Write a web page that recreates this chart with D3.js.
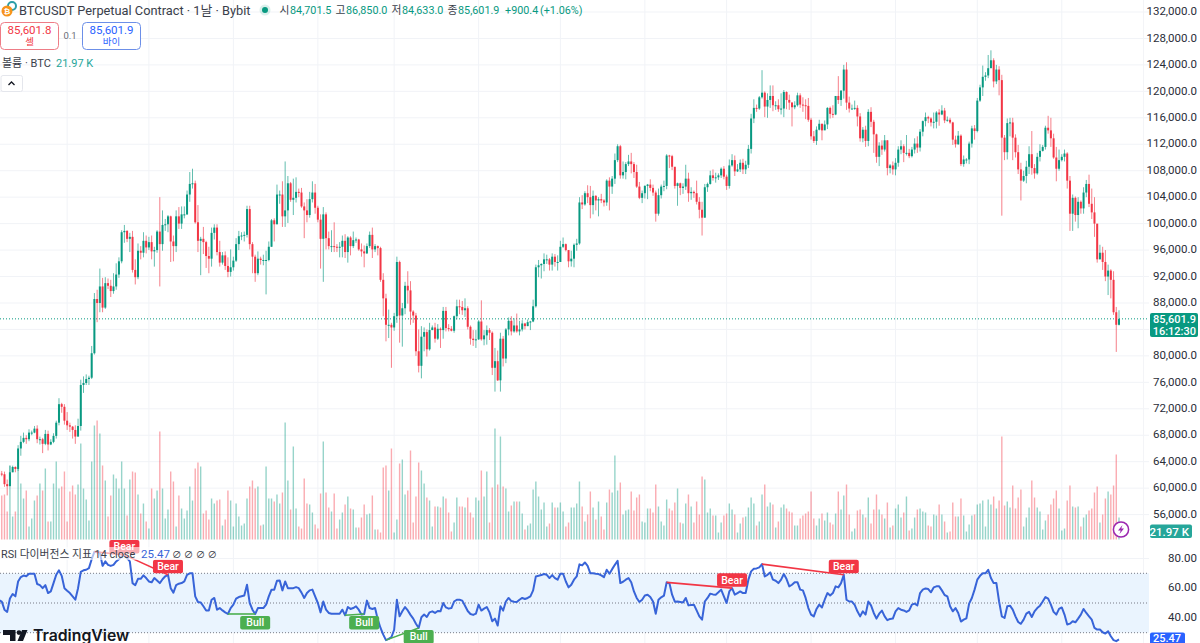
<!DOCTYPE html>
<html>
<head>
<meta charset="utf-8">
<script src="https://cdn.jsdelivr.net/npm/d3@7"></script>
<style>
  html, body { margin: 0; padding: 0; background: #fff; overflow: hidden; }
  svg { display: block; font-family: Roboto, "Noto Sans CJK KR", sans-serif; }
</style>
</head>
<body>
<svg id="chart" width="1200" height="643"></svg>
<script>
// daily candles in thousands of USDT, one row per month
var firstOpen = 62.1;
var closes = [
  62.8,62.2,62.1,60.6,60.3,62.4,63.2,62.9,66.0,67.0,67.6,67.4,68.4,68.4,69.0,67.4,67.4,66.7,68.2,66.6,67.0,67.9,69.9,72.7,72.3,70.2,
  69.5,69.3,68.8,67.8,69.4,75.6,75.9,76.5,76.7,80.4,88.6,88.0,90.5,87.3,91.0,90.6,89.8,90.5,92.3,94.3,98.7,98.9,97.7,98.0,93.0,91.9,95.9,95.6,97.4,96.4,
  97.2,95.8,96.0,98.8,96.9,99.8,99.9,101.1,97.3,96.6,101.1,100.0,101.4,101.4,104.4,106.0,106.1,100.2,97.4,97.7,97.2,95.1,94.7,98.6,99.4,95.7,94.1,95.2,93.6,92.7,93.4,
  94.4,96.9,98.1,98.2,98.3,102.2,96.9,95.0,92.5,94.7,94.5,94.5,94.5,96.5,100.5,99.9,104.4,104.4,101.1,102.0,106.1,103.6,103.9,104.8,104.7,102.6,102.0,101.3,103.7,104.7,102.4,
  100.6,97.7,101.4,97.8,96.6,96.6,96.5,96.4,96.5,97.4,95.7,97.9,96.6,97.5,97.6,96.1,95.8,95.5,96.6,98.3,96.1,96.6,96.3,91.5,88.7,84.7,84.7,84.3,
  86.0,94.2,86.1,87.2,90.6,89.9,86.7,86.1,80.7,78.5,82.9,83.6,81.0,83.9,84.3,82.6,84.1,83.9,86.8,84.2,84.1,83.8,86.0,87.5,87.4,86.9,87.2,84.4,82.6,82.4,82.5,
  85.2,82.5,83.1,83.9,83.5,78.2,79.2,76.3,82.6,79.6,84.0,85.3,83.7,84.6,83.7,84.0,84.9,84.5,85.1,85.2,87.5,93.4,93.7,93.9,94.6,94.6,93.8,95.0,94.2,94.2,
  96.5,96.9,96.0,94.3,94.7,96.8,97.0,103.2,102.9,104.6,104.0,102.8,104.2,103.5,103.7,103.5,103.2,106.5,105.6,106.8,109.6,111.7,107.3,107.8,109.0,109.4,109.0,107.8,105.6,103.9,104.6,
  105.7,105.9,105.4,104.7,101.5,104.3,105.6,105.7,110.3,110.2,108.6,105.7,106.1,105.4,105.6,106.8,104.6,104.8,104.6,103.3,102.1,100.9,105.5,106.0,107.3,106.9,107.0,107.3,108.3,107.1,
  105.7,108.8,109.6,107.9,108.2,109.2,108.2,108.9,111.3,115.9,117.5,117.4,119.1,119.8,117.7,118.7,119.3,117.9,117.9,117.3,117.4,119.9,118.7,118.3,117.6,117.9,119.4,118.0,117.9,117.8,115.7,
  113.2,112.5,114.2,115.1,114.1,115.0,117.5,116.6,116.5,119.3,118.7,120.1,123.3,118.3,117.4,117.4,117.5,116.2,112.9,114.2,112.5,116.9,115.4,113.5,110.1,111.8,111.2,112.6,108.4,108.8,108.2,
  109.2,111.2,111.7,110.7,110.7,110.2,111.2,112.1,111.5,113.9,115.5,116.1,115.9,115.3,115.4,116.8,116.5,117.1,115.6,115.7,115.3,112.7,112.0,113.3,109.0,109.7,109.7,112.1,114.4,114.0,
  118.6,120.6,122.2,122.4,123.5,124.7,121.5,123.3,121.7,113.0,110.8,115.2,115.3,113.0,110.8,108.2,106.5,107.2,108.6,110.5,108.4,107.6,110.1,111.0,111.6,114.5,114.1,112.9,110.0,108.3,109.6,
  110.1,110.6,106.5,101.5,103.9,101.3,103.3,102.3,104.7,106.0,103.0,101.7,100.0,94.6,95.6,94.2,92.0,92.9,91.5,86.6,84.7,85.6
];
var highs = [
  64.4,63.2,62.6,62.5,61.3,63.4,63.4,63.3,66.5,67.9,68.4,68.0,68.9,68.7,69.4,69.5,67.8,67.6,68.8,68.7,67.4,68.3,70.2,73.6,72.9,72.7,
  71.5,69.9,69.4,69.5,70.5,76.4,76.9,77.2,77.0,81.5,89.5,90.0,93.2,91.8,91.9,91.7,91.5,92.5,94.0,94.9,99.0,99.8,99.0,98.6,98.9,94.6,97.0,96.6,98.7,98.2,
  98.0,98.2,96.5,99.0,104.0,102.0,100.7,101.3,101.2,98.2,102.0,102.5,102.6,102.6,105.0,107.8,108.3,106.5,102.8,98.0,99.5,97.4,96.5,99.4,99.9,99.9,97.4,95.7,95.8,94.9,96.1,
  95.0,97.8,98.9,98.7,98.8,102.7,102.7,97.2,95.3,95.8,95.0,95.3,95.9,97.3,100.7,100.8,105.9,105.0,106.4,109.4,107.2,106.3,106.8,107.0,105.3,105.4,103.2,103.7,104.8,106.4,106.0,
  102.7,101.4,102.5,101.7,98.8,99.0,100.2,96.9,97.2,98.2,98.4,98.1,98.1,98.8,97.9,97.7,97.0,96.7,97.0,98.8,99.4,96.9,96.7,96.5,92.5,89.4,87.0,85.0,
  86.5,95.0,94.4,88.0,91.2,92.8,91.3,86.9,86.5,84.0,84.5,84.3,84.0,85.0,84.6,85.0,84.8,84.3,87.4,87.4,84.8,84.5,86.1,88.5,88.5,88.3,88.7,87.5,84.6,83.9,83.9,
  85.4,88.4,83.9,84.6,84.2,83.7,81.2,80.8,83.5,83.0,84.2,85.8,86.0,85.7,86.4,85.3,85.4,85.0,85.5,85.3,88.5,93.8,94.5,94.0,95.5,95.3,94.8,95.5,95.4,95.2,
  97.4,97.9,97.0,96.0,95.9,97.0,97.7,104.0,104.3,104.9,105.8,105.7,105.0,104.3,104.0,104.5,103.7,106.7,107.0,107.2,110.6,112.0,111.9,109.4,109.3,110.4,110.7,109.3,108.9,106.3,105.0,
  105.8,106.0,106.7,105.9,105.0,105.3,105.9,106.5,110.5,110.4,110.4,108.4,106.2,106.2,106.1,108.9,107.7,105.5,105.0,106.5,104.0,103.3,106.0,106.2,108.0,108.2,107.7,107.6,108.5,108.7,
  107.4,109.7,110.5,110.3,109.0,109.7,109.8,109.5,111.9,116.6,118.8,118.0,119.3,123.2,120.0,119.7,120.9,120.9,118.5,118.8,119.7,120.2,120.0,119.5,118.4,118.5,119.8,119.7,119.1,118.8,119.0,
  116.0,114.0,114.7,115.7,115.1,115.6,117.6,117.7,117.9,119.3,122.3,120.2,124.0,124.4,119.2,118.0,118.6,117.9,116.7,114.6,114.8,117.3,117.6,115.7,113.6,112.3,112.6,113.4,112.6,109.0,109.4,
  109.9,111.7,112.6,112.0,113.4,111.3,111.6,112.9,113.2,114.3,115.6,116.8,116.3,116.1,116.8,117.0,117.3,117.9,117.5,116.2,116.0,115.4,113.3,114.0,113.5,110.3,109.9,112.4,114.8,114.9,
  119.0,121.0,123.9,122.9,125.5,126.2,125.0,124.0,123.8,122.5,113.4,115.9,116.0,116.0,113.5,111.9,109.2,108.0,109.5,111.7,114.0,109.0,110.7,112.0,111.9,114.8,116.3,116.0,113.6,111.6,111.2,
  110.5,111.2,110.8,107.2,104.4,104.1,104.0,103.5,105.5,106.6,107.4,105.3,104.0,99.9,96.8,96.5,96.0,93.8,93.1,92.8,87.4,86.9
];
var lows = [
  62.1,61.9,61.8,60.2,58.9,60.4,62.4,62.4,62.6,64.9,66.8,66.7,67.1,68.0,68.3,66.8,66.6,65.3,66.5,65.7,66.5,66.8,67.5,69.5,71.4,69.6,
  68.8,68.5,67.5,66.7,67.8,68.7,74.4,75.6,75.6,76.5,80.2,85.1,86.6,86.6,87.1,90.1,88.9,89.4,90.0,91.8,94.0,97.1,97.2,95.7,92.6,90.8,91.6,94.6,94.9,95.5,
  96.0,94.6,93.5,95.6,90.5,95.9,98.9,98.7,94.2,94.3,95.7,99.2,99.2,100.8,101.3,103.3,105.3,100.0,95.7,92.2,95.4,93.3,92.5,93.5,97.6,95.2,93.5,93.8,93.0,91.9,92.0,
  92.9,94.2,96.0,97.5,97.3,97.9,96.1,92.5,91.2,92.2,93.8,93.7,89.3,94.3,96.5,97.3,99.9,103.0,99.5,99.5,100.1,103.3,101.3,103.2,104.0,102.4,97.8,100.2,100.9,103.2,101.5,
  100.2,93.2,91.2,96.1,96.1,95.7,95.7,95.7,94.9,94.9,94.8,94.1,95.2,96.3,97.1,95.9,95.0,93.4,95.4,96.3,94.8,95.7,95.2,91.2,86.0,82.2,82.7,78.2,
  83.8,85.0,82.0,81.4,86.3,87.9,84.7,85.0,80.0,77.5,76.6,80.7,79.9,80.8,83.9,82.0,82.4,81.2,82.6,83.7,83.7,83.7,83.5,85.5,86.3,86.2,85.9,84.0,81.7,81.5,81.2,
  82.4,82.3,81.6,81.7,82.4,77.1,74.6,76.2,74.6,78.4,78.9,83.1,83.1,83.5,83.5,83.1,83.7,84.0,84.5,83.9,85.1,87.3,91.9,91.7,92.8,93.9,92.9,92.9,93.5,92.9,
  94.2,96.3,95.8,93.4,93.5,93.4,95.9,96.8,102.2,102.7,103.1,100.8,101.4,102.0,101.1,103.1,102.6,102.7,102.0,104.5,106.0,109.3,106.8,106.8,106.7,108.7,107.6,106.9,105.4,103.7,103.1,
  103.8,103.7,104.9,104.2,100.3,101.2,103.8,104.9,105.2,108.4,108.1,105.3,102.7,104.3,104.5,105.1,103.3,103.6,103.9,102.9,100.8,98.2,100.9,104.8,105.9,106.5,106.2,106.6,106.9,106.7,
  105.1,105.3,108.6,107.2,107.8,107.8,107.5,107.5,108.4,110.6,115.2,116.9,117.2,118.9,116.1,116.0,117.5,117.0,117.2,116.9,116.5,116.1,117.3,117.2,114.7,117.3,117.7,117.5,116.9,115.8,115.4,
  112.7,112.2,111.9,114.1,112.6,114.2,114.3,115.9,116.0,116.4,118.1,117.8,118.9,117.2,116.8,117.3,117.2,114.7,112.4,112.3,111.6,111.7,114.6,110.7,109.2,108.7,110.4,110.9,107.3,107.6,107.4,
  107.3,108.6,110.5,109.3,110.3,109.9,110.0,110.6,110.7,110.9,113.2,114.7,115.2,114.7,114.4,114.4,114.8,116.4,115.2,115.4,115.1,111.9,111.5,111.9,108.7,108.6,109.1,109.0,111.5,112.7,
  113.8,118.4,119.3,121.6,122.0,123.6,120.6,121.1,119.4,101.2,109.6,109.7,113.2,109.6,110.0,107.5,103.5,106.3,106.1,107.5,107.4,106.8,107.4,109.4,110.9,111.2,113.6,111.6,109.8,106.4,108.0,
  109.4,109.4,105.3,98.9,98.9,100.3,99.3,101.5,101.5,104.0,102.5,100.7,98.0,94.1,94.6,93.0,91.3,89.2,88.7,86.2,80.6,84.6
];
// volume in K
var volumes = [
  44,44,44,45,28,74,23,28,71,56, 41,49,13,21,39,44,56,49,71,18, 18,56,78,51,53,68,18,48,54,45,
  55,96,51,40,19,78,114,119,106,74, 59,23,44,65,61,51,78,51,24,60, 68,67,45,26,36,18,11,51,41,49,
  108,51,21,30,68,58,13,44,31,21, 29,53,39,71,77,73,26,29,20,41, 36,39,40,14,20,49,39,13,36,23,
  14,16,41,53,59,51,53,14,15,73, 41,41,38,45,36,47,117,59,30,93, 31,13,11,61,36,35,27,15,11,46,
  98,47,32,28,46,11,20,27,35,43, 31,30,12,12,22,35,25,26,44,10, 10,7,72,74,49,91,7,20,76,
  80,45,49,89,17,43,77,69,56,42, 39,13,33,33,32,43,41,27,8,17, 42,33,33,32,42,27,22,42,39,69,
  43,68,17,52,111,55,103,53,51,28, 34,38,38,38,26,10,14,16,50,58, 43,30,37,13,16,37,32,32,37,28,
  13,17,32,32,36,58,33,18,25,48, 32,20,38,23,10,37,50,47,84,49, 57,25,29,30,48,29,42,45,18,17,
  31,31,27,55,33,18,14,40,31,29, 37,51,17,16,36,45,33,17,38,25, 63,60,27,31,24,24,7,17,24,26,
  36,30,25,7,16,22,23,32,42,36, 14,18,45,55,33,37,35,12,18,32, 35,31,28,27,14,14,21,
  24,26,28,48,21,14,21,26,19,27, 17,15,26,48,30,44,55,25,8,11, 29,30,25,22,42,16,30,45,30,25,
  21,37,12,14,31,35,22,27,43,9, 11,22,30,31,28,27,14,13,25,24, 35,25,18,7,8,37,23,23,41,24,
  8,15,24,25,35,36,39,13,40,35, 43,31,39,103,34,38,32,54,31,42, 50,13,22,32,59,42,32,28,10,19,
  25,35,41,49,31,9,11,39,54,33, 32,33,13,22,25,29,31,47,53,17, 25,41,48,45,54,85,22
];
var rsiValues = [
  52,52,51,45.5,44,53,56,54.5,64.5,67.5, 68.5,68,69.7,69.7,69.7,62.8,62,60,62,56.7,
  57.8,63.4,69,72,68.3,60,58.3,56.7,54.5,52.2, 60,71,72,72.4,73.5,79.5,84.5,84.2,84,75,
  78,75.7,75,75.7,78,79.5,81.3,82.4,80.2,78, 63.4,62,66.3,66.3,68.6,66.8,64.5,63.9,66.8,65.2,
  63.4,66,68,69,60,57,62,63,63.4,64.5, 69,70,70,54.5,50.7,50.4,47.8,45,45,52.2,
  53.4,45.5,46.6,45,43.7,42.6,46.6,48.9,52.9,54, 54.5,55,62.3,50,45.5,42.6,46.6,46.6,46.6,48.9,
  54.5,59,59,65,65.2,58.5,64.5,60,60,60, 60.7,60,57,53.4,56.7,58.5,59,54.5,50,43.7,
  51,45.5,43.3,42.8,42.8,42.8,42.8,45.5,41.7,47.3, 46,46.6,47.8,45.5,42.2,42.6,51.6,46.6,46,46.6,
  38.8,33.2,28.7,25,25.8,27,32,52.2,41, 44.4,47.3,45,42,39.5,36,33.2,40.4,42.2,40.6,
  43.7,44.4,43.3,44.6,44.4,50,47,46.2,46.6,51, 52.2,52.2,51.6,48.2,44.6,42.6,42,42.8,48.9,44.9,
  46.2,47.3,43.7,37.7,39.5,34.8,47.8,44.9,51,53.4, 51.3,50.9,50.7,52.2,53.4,52.7,53.4,54.5,58.5,67.9,
  68.3,68.8,69.5,69,66.8,68.8,66.8,65.7,69.7,69.7, 64.5,60.5,62.3,65.7,67.9,76,75.3,77.3,75,70,
  70,69.7,69.5,68.6,67.4,72.4,69.7,72.8,75.7,78.4, 63.4,64.3,65.7,66.8,64,57.8,53.4,50.7,52.2,55.1,
  55.6,54,51,42.8,52.2,53.8,54.9,63.9,63.4,55.6, 50.9,51,50.7,50.4,53.4,48.4,48.7,48.9,45,41,
  38.8,51,53.4,56.3,55.8,55.6,57.2,59,54.5,50, 57.8,60,55.6,56.7,57.8,56.7,56.7,65.7,71.3,73,
  73.3,74,76.2,67.9,69,70.6,65.7,65,63.4,65.7, 69.5,66.1,61.2,62.3,63.9,64,59,58.5,53.4,46.6,
  42.2,41,46,48.9,47,52.2,56.7,55,56.7,61.2, 60.5,63.4,69,52.2,51,51,48.7,44.4,41,44.4,
  42.2,51,48.4,43.3,39.5,42.8,44.9,41,38.4,39.3, 39.5,44.4,46.6,45.5,45,44,45,48.9,49.6,48.4,
  56.7,59,59.8,59.4,57.2,60.5,61.2,61.2,58.5,55.4, 54.5,47.8,44.4,46.6,43.3,37.5,38.8,39.7,49.6,53.4,
  59,65.7,68.3,70,70,72.4,66.8,63.4,63.4,51, 41,39.9,47.8,48.2,45.5,41,37.2,36,38.8,42.8,
  44,40.6,44.4,46.6,48.2,51,54,52.9,48.9,44, 42.2,46,47,42.2,35.5,36.1,37.7,37,39.5,42.2,
  46,43.3,41,38.8,33.2,32.1,32.1,30.3,29.4,31, 27.6,25,24.3,25.47
];

var priceTicks = [132,128,124,120,116,112,108,104,100,96,92,88,84,80,76,72,68,64,60,56];
var hiddenPriceLabels = [84]; // covered by the last-price badge
var rsiTicks = [80,60,40];
var rsiBands = [70,50,30];
// bar indexes of the month starts (Nov 2024 .. Nov 2025)
var monthStarts = [26,56,87,118,146,177,207,238,268,299,330,360,391];
var bearLines = [[36,47],[47,63],[246,270],[281,311]];
var bullLines = [[85,95],[128,135],[143,155]];
var ohlc = [["시","84,701.5"],["고","86,850.0"],["저","84,633.0"],["종","85,601.9"]];

var upColor = "#089981", downColor = "#f23645";
var lastIndex = closes.length - 1;

var svg = d3.select("#chart");

var x = d3.scaleLinear().domain([0, lastIndex]).range([-3.7, 1119]);
var y = d3.scaleLinear().domain([56, 132]).range([514.6, 12]);
var volY = d3.scaleLinear().domain([0, 125]).range([539.5, 414.5]);
var rsiY = d3.scaleLinear().domain([30, 70]).range([632.7, 573.3]);

function openOf(i) { return i == 0 ? firstOpen : closes[i - 1]; }
function isUp(i) { return closes[i] >= openOf(i); }

var plotRight = 1149;

///////////// grid
svg.append("g").selectAll("line").data(priceTicks).join("line")
  .attr("x1", 0).attr("x2", plotRight)
  .attr("y1", d => y(d)).attr("y2", d => y(d))
  .attr("stroke", "#f1f3f7");
svg.append("g").selectAll("line").data(monthStarts).join("line")
  .attr("x1", d => x(d)).attr("x2", d => x(d))
  .attr("y1", 0).attr("y2", 643)
  .attr("stroke", "#f1f3f7");
svg.append("line").attr("x1", 1143.5).attr("x2", 1143.5).attr("y1", 0).attr("y2", 643).attr("stroke", "#f3f4f7");

///////////// volume
svg.append("g").selectAll("rect").data(d3.range(volumes.length)).join("rect")
  .attr("x", i => x(i) - 0.7).attr("width", 1.4)
  .attr("y", i => volY(volumes[i]))
  .attr("height", i => volY(0) - volY(volumes[i]))
  .attr("fill", i => isUp(i) ? upColor : downColor)
  .attr("opacity", 0.42);

///////////// last price line
svg.append("line")
  .attr("x1", 0).attr("x2", plotRight)
  .attr("y1", y(85.6)).attr("y2", y(85.6))
  .attr("stroke", upColor).attr("stroke-dasharray", "1 2");

///////////// candles
var candles = svg.append("g");
candles.selectAll("line").data(d3.range(closes.length)).join("line")
  .attr("x1", i => x(i)).attr("x2", i => x(i))
  .attr("y1", i => y(highs[i])).attr("y2", i => y(lows[i]))
  .attr("stroke", i => isUp(i) ? upColor : downColor)
  .attr("stroke-width", 0.9)
  .attr("opacity", 0.7);
candles.selectAll("rect").data(d3.range(closes.length)).join("rect")
  .attr("x", i => x(i) - 1).attr("width", 2)
  .attr("y", i => y(Math.max(openOf(i), closes[i])))
  .attr("height", i => Math.max(1, Math.abs(y(openOf(i)) - y(closes[i]))))
  .attr("fill", i => isUp(i) ? upColor : downColor);

///////////// rsi pane
svg.append("rect")
  .attr("x", 0).attr("width", plotRight)
  .attr("y", rsiY(70)).attr("height", rsiY(30) - rsiY(70))
  .attr("fill", "#eaf4fe");
svg.append("g").selectAll("line").data(rsiBands).join("line")
  .attr("x1", 0).attr("x2", plotRight)
  .attr("y1", d => rsiY(d)).attr("y2", d => rsiY(d))
  .attr("stroke", "#787b86").attr("stroke-dasharray", "1 2");
svg.append("line")
  .attr("x1", 0).attr("x2", plotRight)
  .attr("y1", rsiY(80)).attr("y2", rsiY(80))
  .attr("stroke", "#f1f3f7");

var rsiLine = d3.line().x((d, i) => x(i)).y(d => rsiY(d));
svg.append("path")
  .datum(rsiValues)
  .attr("d", rsiLine)
  .attr("fill", "none").attr("stroke", "#3864d8")
  .attr("stroke-width", 2).attr("stroke-linejoin", "round");

function drawDivergence(lines, color) {
  svg.append("g").selectAll("line").data(lines).join("line")
    .attr("x1", d => x(d[0])).attr("x2", d => x(d[1]))
    .attr("y1", d => rsiY(rsiValues[d[0]])).attr("y2", d => rsiY(rsiValues[d[1]]))
    .attr("stroke", color).attr("stroke-width", 1.6);
}
drawDivergence(bearLines, downColor);
drawDivergence(bullLines, "#4caf50");

function drawTag(d, text, color, isBear) {
  var cx = x(d[1]);
  var top = isBear ? rsiY(rsiValues[d[1]]) - 15 : rsiY(rsiValues[d[1]]) + 2;
  svg.append("rect").attr("x", cx - 15).attr("y", top).attr("width", 30).attr("height", 13.5).attr("rx", 2).attr("fill", color);
  svg.append("text").attr("x", cx).attr("y", top + 10.5).attr("text-anchor", "middle")
    .attr("font-size", 10.5).attr("font-weight", 500).attr("fill", "#fff").text(text);
}
bearLines.forEach(d => drawTag(d, "Bear", downColor, true));
bullLines.forEach(d => drawTag(d, "Bull", "#4caf50", false));

///////////// axes on the right
var priceAxis = d3.axisRight(y)
  .tickValues(priceTicks.filter(d => hiddenPriceLabels.indexOf(d) < 0))
  .tickSize(0).tickPadding(0)
  .tickFormat(d => d3.format(",.1f")(d * 1000));
var priceAxisG = svg.append("g").attr("transform", "translate(1197,-1)").call(priceAxis);
var rsiAxis = d3.axisRight(rsiY)
  .tickValues(rsiTicks).tickSize(0).tickPadding(0)
  .tickFormat(d3.format(".2f"));
var rsiAxisG = svg.append("g").attr("transform", "translate(1197,-1)").call(rsiAxis);
[priceAxisG, rsiAxisG].forEach(g => {
  g.select(".domain").remove();
  g.selectAll("text")
    .attr("text-anchor", "end")
    .attr("font-family", "Roboto, sans-serif")
    .attr("font-size", 11.5)
    .attr("fill", "#2a2e39");
});

function badge(x0, y0, w, h, fill) {
  svg.append("rect").attr("x", x0).attr("y", y0).attr("width", w).attr("height", h).attr("rx", 2).attr("fill", fill);
}
function label(str, px, py, size, fill, anchor, weight) {
  return svg.append("text").attr("x", px).attr("y", py)
    .attr("font-size", size).attr("fill", fill)
    .attr("text-anchor", anchor || "start")
    .attr("font-weight", weight || 400)
    .text(str);
}
badge(1150, 313, 48, 24, upColor);
label("85,601.9", 1196, 322.5, 11, "#fff", "end", 500);
label("16:12:30", 1196, 334.5, 11, "#fff", "end", 500);
badge(1150, 524.5, 42, 13.5, "#26a69a");
label("21.97 K", 1189, 535.5, 11.5, "#fff", "end", 500);
badge(1150, 632.5, 35, 14, "#2962ff");
label("25.47", 1181, 641.5, 11, "#fff", "end", 500);

// lightning button over the volume bars
svg.append("circle").attr("cx", 1121).attr("cy", 529.5).attr("r", 7.6)
  .attr("fill", "#fff").attr("stroke", "#9c27b0").attr("stroke-width", 1.5);
svg.append("path").attr("transform", "translate(1121,529.5)")
  .attr("d", "M1.5,-4.5 L-3,1 L-0.3,1 L-1.5,4.5 L3,-1 L0.3,-1 Z")
  .attr("fill", "#9c27b0");

///////////// header and legends
svg.append("circle").attr("cx", 12).attr("cy", 6).attr("r", 4).attr("fill", "none").attr("stroke", "#2c9ea8").attr("stroke-width", 2);
svg.append("circle").attr("cx", 7).attr("cy", 11).attr("r", 5.5).attr("fill", "#f7931a");
label("₿", 7, 14, 8, "#fff", "middle", 700);
label("BTCUSDT Perpetual Contract · 1날 · Bybit", 19, 14.5, 12.8, "#3a3e4a");

svg.append("circle").attr("cx", 265).attr("cy", 10).attr("r", 5.5).attr("fill", "#089981").attr("opacity", 0.15);
svg.append("circle").attr("cx", 265).attr("cy", 10).attr("r", 3).attr("fill", "#089981");

var ohlcG = svg.append("g");
ohlcG.selectAll("g").data(ohlc).join("g")
  .attr("transform", (d, i) => "translate(" + (279.5 + i * 56) + ",14)")
  .each(function(d) {
    var g = d3.select(this);
    g.append("text").attr("font-size", 10.8).attr("fill", "#3a3e4a").text(d[0]);
    g.append("text").attr("x", 10.5).attr("font-size", 10.8).attr("fill", upColor).text(d[1]);
  });
label("+900.4", 505, 14, 10.8, upColor);
label("(+1.06%)", 540, 14, 10.8, upColor);

svg.append("rect").attr("x", 0.5).attr("y", 22.5).attr("width", 58).attr("height", 27).attr("rx", 4)
  .attr("fill", "#fff").attr("stroke", "#ee7c86");
label("85,601.8", 29.5, 34, 11.5, downColor, "middle");
label("셀", 29.5, 45, 9.5, downColor, "middle");
label("0.1", 70, 39, 9.5, "#6a6d78", "middle");
svg.append("rect").attr("x", 82.5).attr("y", 22.5).attr("width", 58).attr("height", 27).attr("rx", 4)
  .attr("fill", "#fff").attr("stroke", "#6c8fe8");
label("85,601.9", 111.5, 34, 11.5, "#2962ff", "middle");
label("바이", 111.5, 45, 9.5, "#2962ff", "middle");

label("볼륨 · BTC", 2, 67, 11, "#3a3e4a");
label("21.97 K", 56, 67, 11, "#26a69a");
svg.append("rect").attr("x", 1).attr("y", 75.5).attr("width", 21.5).attr("height", 16).attr("rx", 2)
  .attr("fill", "#fff").attr("stroke", "#e4e6ec");
svg.append("path").attr("d", "M8.5,85 L11.5,82 L14.5,85").attr("fill", "none").attr("stroke", "#131722").attr("stroke-width", 1.3);

// rsi legend fades what runs under it
svg.append("rect").attr("x", 0).attr("y", 547).attr("width", 215).attr("height", 13).attr("fill", "#fff").attr("opacity", 0.6);
label("RSI 다이버전스 지표 14 close", 1, 557.5, 10.8, "#3a3e4a");
label("25.47", 141, 557.5, 11.5, "#3864d8");
label("∅ ∅ ∅ ∅", 172, 557.5, 9.5, "#3a3e4a");

// tradingview mark
svg.append("path").attr("d", "M3,630 H15.5 V641 H10 V635 H3 Z M22,630 H27.5 L23,641 H17.5 Z").attr("fill", "#131722");
svg.append("circle").attr("cx", 19).attr("cy", 632.6).attr("r", 2.4).attr("fill", "#131722");
label("TradingView", 33, 641, 15.8, "#131722", "start", 600).attr("font-family", "Inter, sans-serif");
</script>
</body>
</html>
